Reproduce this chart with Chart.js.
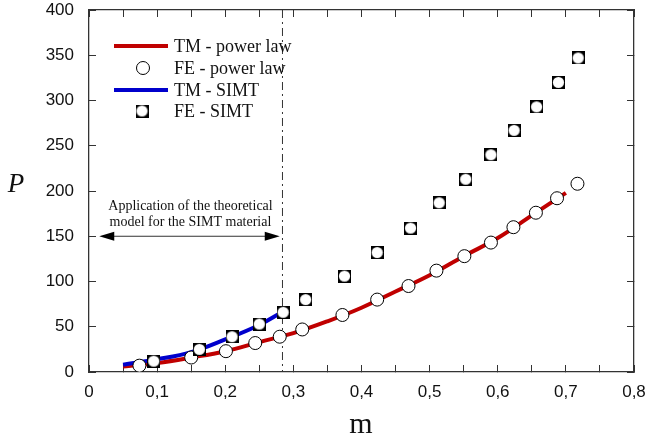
<!DOCTYPE html>
<html>
<head>
<meta charset="utf-8">
<script src="https://cdn.jsdelivr.net/npm/chart.js@4.4.1/dist/chart.umd.min.js"></script>
<style>
html,body{margin:0;padding:0;background:#fff;}
#wrap{width:646px;height:441px;position:relative;}
</style>
</head>
<body>
<div id="wrap"><canvas id="c" width="646" height="441"></canvas></div>
<script>
// ---- data ----
const mPowerTM = [0.05,0.10,0.15,0.20,0.25,0.30,0.35,0.40,0.45,0.50,0.55,0.60,0.65,0.70];
const pPowerTM = [6,10,16,23,33,43,56,71,89,107,128,148,173,198];

const mPowerFE = [0.074,0.150,0.201,0.244,0.280,0.313,0.372,0.423,0.469,0.510,0.551,0.590,0.623,0.656,0.687,0.717];
const pPowerFE = [7,16,23,32,39,47,63,80,95,112,128,143,160,176,192,208];

const mSimtTM = [0.05,0.10,0.15,0.20,0.25,0.283];
const pSimtTM = [8,14,22,36,52,66];

const mSimtFE = [0.095,0.162,0.210,0.250,0.285,0.318,0.375,0.423,0.472,0.514,0.553,0.590,0.624,0.657,0.689,0.718];
const pSimtFE = [12,25,39,53,66,80,106,132,159,187,213,240,267,293,320,347];

const seriesLabels = ['TM - power law','FE - power law','TM - SIMT','FE - SIMT'];
const xTickValues = [0,0.05,0.1,0.15,0.2,0.25,0.3,0.35,0.4,0.45,0.5,0.55,0.6,0.65,0.7,0.75,0.8];
const yTickValues = [0,50,100,150,200,250,300,350,400];
const limitM = 0.284;
const arrowFrom = 0.015, arrowTo = 0.28, arrowP = 150;
const noteLines = ['Application of the theoretical','model for the SIMT material'];
const xTitle = 'm', yTitle = 'P';

const zip = (xs, ys) => xs.map((x, i) => ({x: x, y: ys[i]}));

// square-with-circle marker
function makeSquareMarker(){
  const c = document.createElement('canvas');
  c.width = 13; c.height = 13;
  const g = c.getContext('2d');
  g.fillStyle = '#000';
  g.fillRect(0,0,13,13);
  g.fillStyle = '#fff';
  g.beginPath(); g.arc(6.5,6.5,5.6,0,Math.PI*2); g.fill();
  return c;
}
const squareMarker = makeSquareMarker();

const RED = '#c00000', BLUE = '#0000cc';
const serif = '"Liberation Serif", "Times New Roman", serif';
const sans = '"Liberation Sans", Arial, sans-serif';

const decorPlugin = {
  id: 'decor',
  beforeDatasetsDraw(chart){
    const ctx = chart.ctx, xs = chart.scales.x, ys = chart.scales.y, a = chart.chartArea;
    ctx.save();
    // dash-dot limit line
    const lx = xs.getPixelForValue(limitM);
    ctx.strokeStyle = '#333'; ctx.lineWidth = 1;
    ctx.setLineDash([8,4,2,4]);
    ctx.beginPath(); ctx.moveTo(lx, a.top); ctx.lineTo(lx, a.bottom); ctx.stroke();
    ctx.setLineDash([]);
    // double arrow
    const x1 = xs.getPixelForValue(arrowFrom), x2 = xs.getPixelForValue(arrowTo), ay = ys.getPixelForValue(arrowP);
    ctx.strokeStyle = '#333'; ctx.lineWidth = 1;
    ctx.beginPath(); ctx.moveTo(x1+8, ay); ctx.lineTo(x2-8, ay); ctx.stroke();
    ctx.fillStyle = '#000';
    ctx.beginPath(); ctx.moveTo(x1, ay); ctx.lineTo(x1+15, ay-4.5); ctx.lineTo(x1+15, ay+4.5); ctx.closePath(); ctx.fill();
    ctx.beginPath(); ctx.moveTo(x2, ay); ctx.lineTo(x2-15, ay-4.5); ctx.lineTo(x2-15, ay+4.5); ctx.closePath(); ctx.fill();
    // note text
    ctx.fillStyle = '#111';
    ctx.font = '14px ' + serif;
    ctx.textAlign = 'center'; ctx.textBaseline = 'middle';
    const cx = (x1 + x2) / 2 + 1;
    ctx.fillText(noteLines[0], cx, ay - 30);
    ctx.fillText(noteLines[1], cx, ay - 14);
    ctx.restore();
  },
  afterDraw(chart){
    const ctx = chart.ctx;
    ctx.save();
    // axis titles
    ctx.fillStyle = '#111';
    ctx.font = 'italic 27px ' + serif;
    ctx.textAlign = 'center'; ctx.textBaseline = 'alphabetic';
    ctx.fillText(yTitle, 16, 192);
    ctx.font = '30px ' + serif;
    ctx.fillText(xTitle, 361, 433);
    // legend
    const lx0 = 114, lx1 = 168, tx = 174, rows = [46, 68, 90, 111];
    ctx.font = '18px ' + serif;
    ctx.textAlign = 'left'; ctx.textBaseline = 'middle';
    ctx.lineWidth = 4;
    ctx.strokeStyle = RED;
    ctx.beginPath(); ctx.moveTo(lx0, rows[0]); ctx.lineTo(lx1, rows[0]); ctx.stroke();
    ctx.strokeStyle = BLUE;
    ctx.beginPath(); ctx.moveTo(lx0, rows[2]); ctx.lineTo(lx1, rows[2]); ctx.stroke();
    ctx.lineWidth = 1; ctx.strokeStyle = '#000'; ctx.fillStyle = '#fff';
    ctx.beginPath(); ctx.arc(143, rows[1], 6.5, 0, Math.PI*2); ctx.fill(); ctx.stroke();
    ctx.drawImage(squareMarker, 142 - 6.5, rows[3] - 6.5);
    ctx.fillStyle = '#111';
    seriesLabels.forEach((t, i) => ctx.fillText(t, tx, rows[i] + 1));
    ctx.restore();
  }
};

const gridCommon = {drawOnChartArea: false, drawTicks: true, tickLength: -7, color: '#333', lineWidth: 1};
const borderCommon = {display: true, color: '#333', width: 1.3};
const noPad = s => { s.paddingTop = 0; s.paddingBottom = 0; s.paddingLeft = 0; s.paddingRight = 0; };

new Chart(document.getElementById('c'), {
  type: 'scatter',
  data: {
    datasets: [
      {label: seriesLabels[0], data: zip(mPowerTM, pPowerTM), showLine: true, borderColor: RED, borderWidth: 4, tension: 0.4, pointRadius: 0, fill: false, order: 4},
      {label: seriesLabels[2], data: zip(mSimtTM, pSimtTM), showLine: true, borderColor: BLUE, borderWidth: 4, tension: 0.4, pointRadius: 0, fill: false, order: 3},
      {label: seriesLabels[1], data: zip(mPowerFE, pPowerFE), showLine: false, pointStyle: 'circle', pointRadius: 6.5, pointBackgroundColor: '#fff', pointBorderColor: '#000', pointBorderWidth: 1, order: 2},
      {label: seriesLabels[3], data: zip(mSimtFE, pSimtFE), showLine: false, pointStyle: squareMarker, pointRadius: 6.5, order: 1}
    ]
  },
  options: {
    responsive: false,
    animation: false,
    events: [],
    layout: {padding: 0, autoPadding: false},
    plugins: {legend: {display: false}, tooltip: {enabled: false}},
    scales: {
      x: {
        type: 'linear', position: 'bottom', min: 0, max: 0.8,
        afterBuildTicks: s => { s.ticks = xTickValues.map(v => ({value: v})); },
        ticks: {
          autoSkip: false, maxRotation: 0, padding: 17, color: '#111', font: {family: sans, size: 17},
          callback: v => { const k = Math.round(v*100); if (k % 10 !== 0) return ''; return k === 0 ? '0' : (v.toFixed(1).replace('.', ',')); }
        },
        grid: gridCommon, border: borderCommon,
        afterFit: s => { s.height = 69; noPad(s); }
      },
      x2: {
        type: 'linear', position: 'top', min: 0, max: 0.8,
        afterBuildTicks: s => { s.ticks = xTickValues.map(v => ({value: v})); },
        ticks: {display: false},
        grid: gridCommon, border: borderCommon,
        afterFit: s => { s.height = 10; noPad(s); }
      },
      y: {
        type: 'linear', position: 'left', min: 0, max: 400,
        afterBuildTicks: s => { s.ticks = yTickValues.map(v => ({value: v})); },
        ticks: {padding: 22, color: '#111', font: {family: sans, size: 17}, callback: v => String(v)},
        grid: gridCommon, border: borderCommon,
        afterFit: s => { s.width = 89; noPad(s); }
      },
      y2: {
        type: 'linear', position: 'right', min: 0, max: 400,
        afterBuildTicks: s => { s.ticks = yTickValues.map(v => ({value: v})); },
        ticks: {display: false},
        grid: gridCommon, border: borderCommon,
        afterFit: s => { s.width = 12; noPad(s); }
      }
    }
  },
  plugins: [decorPlugin]
});
</script>
</body>
</html>
